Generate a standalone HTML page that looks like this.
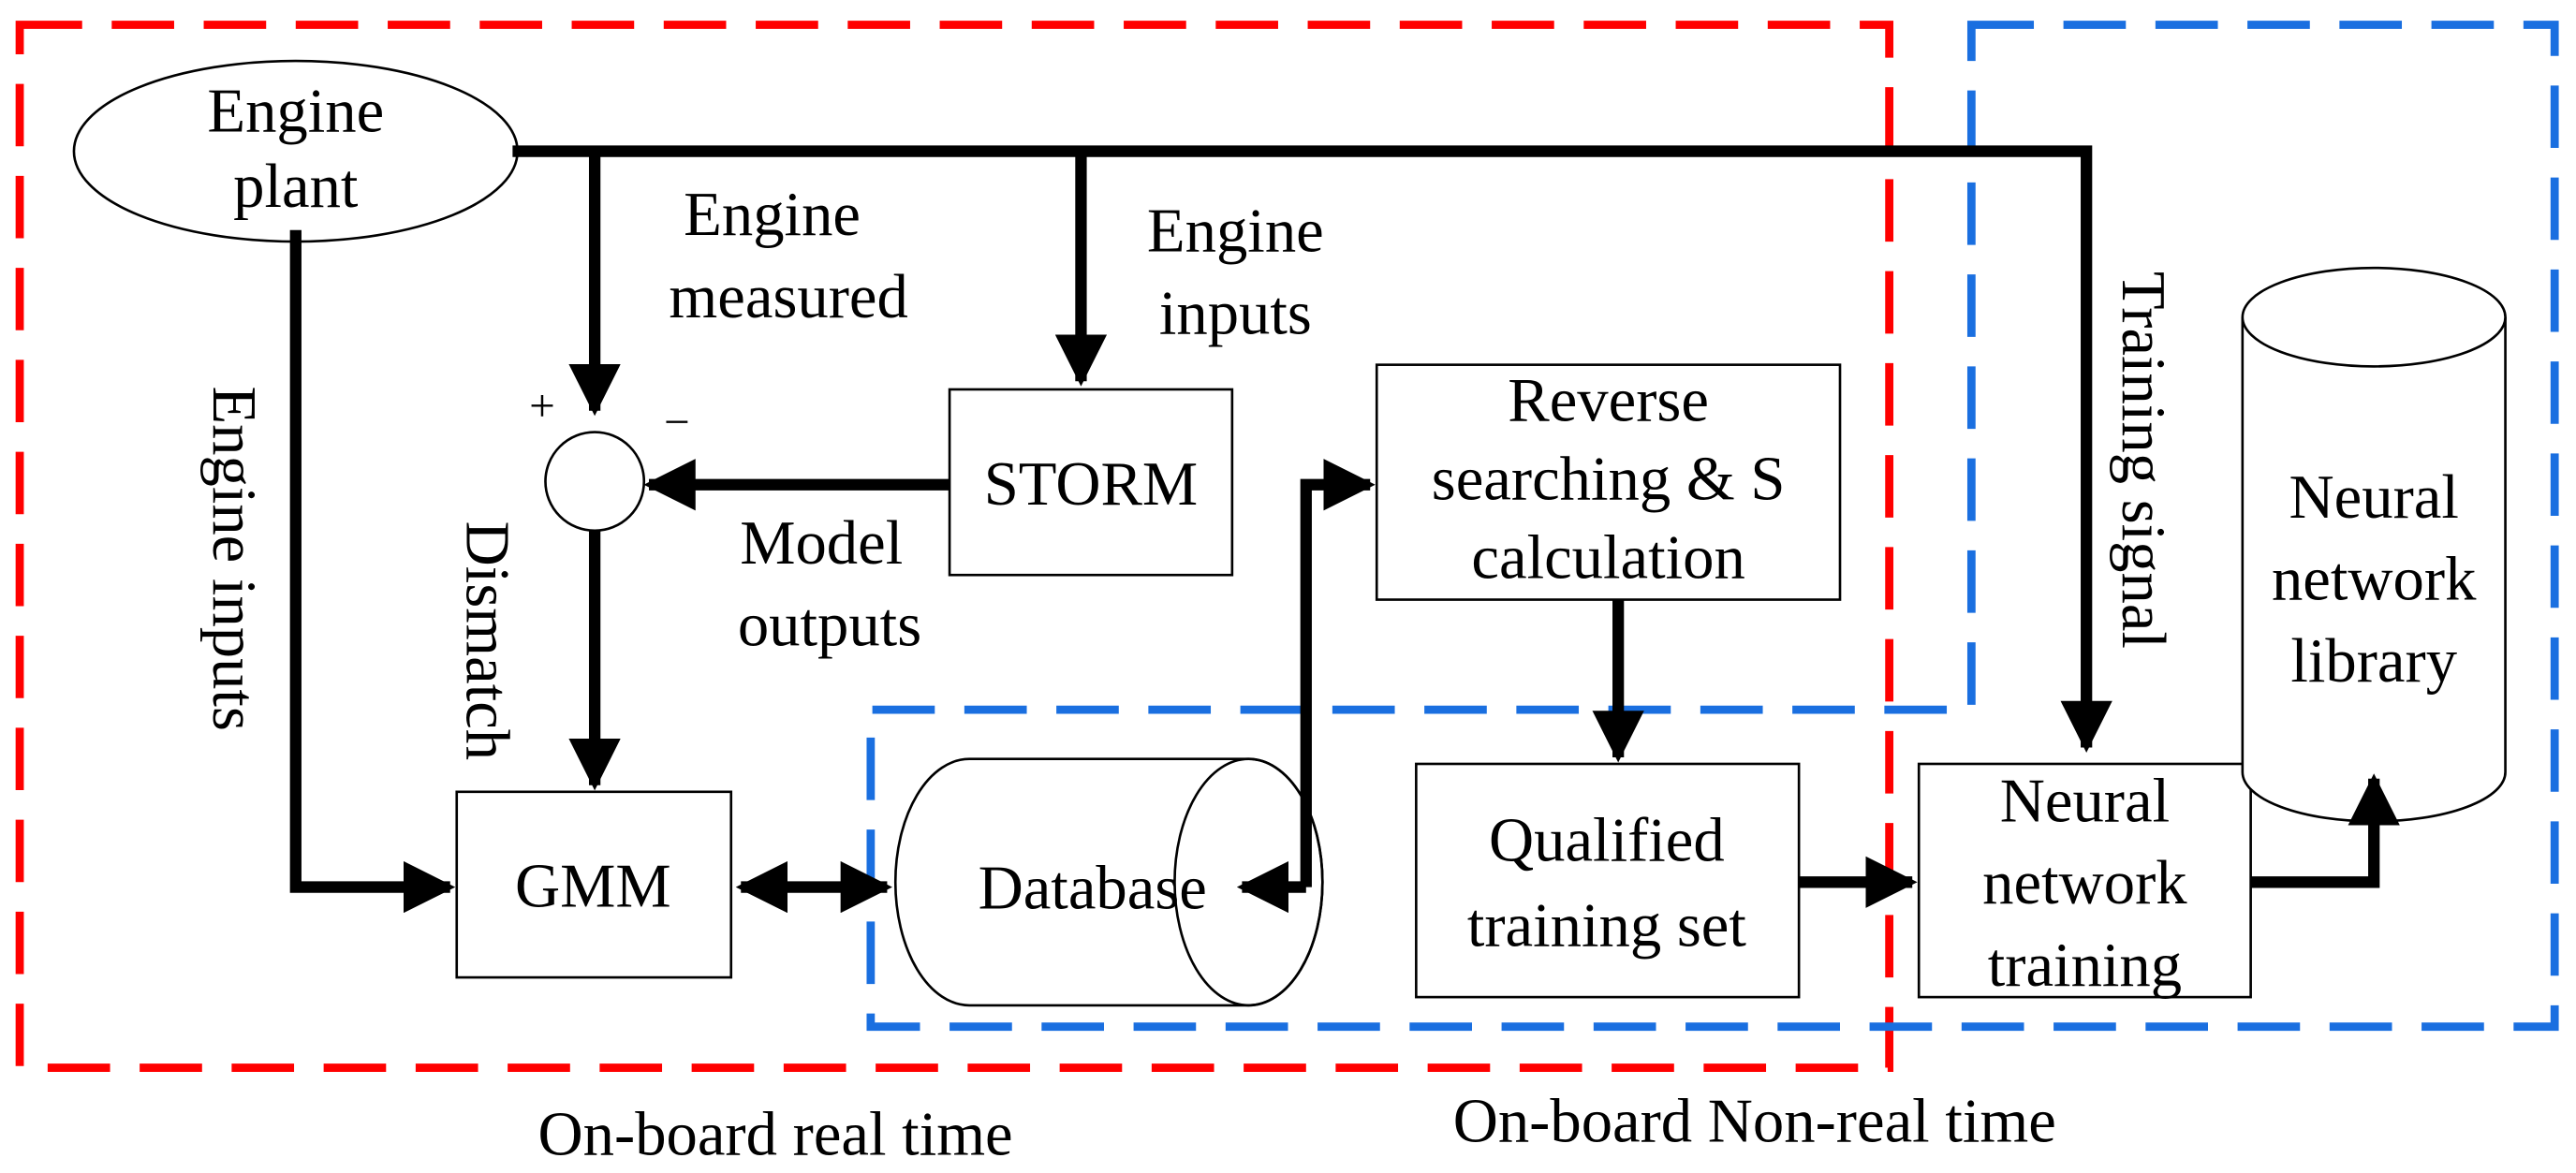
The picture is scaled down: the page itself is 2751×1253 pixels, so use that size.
<!DOCTYPE html>
<html><head><meta charset="utf-8"><style>html,body{margin:0;padding:0;background:#fff}svg{display:block}</style></head>
<body>
<svg width="2751" height="1253" viewBox="0 0 1568 714" xmlns="http://www.w3.org/2000/svg" font-family="Liberation Serif, serif" font-size="38">
<defs>
<marker id="a" viewBox="0 0 10 10" refX="9" refY="5" markerWidth="4.5" markerHeight="4.5" orient="auto-start-reverse" markerUnits="strokeWidth"><path d="M0,0 L10,5 L0,10 z" fill="#000"/></marker>
</defs>
<rect x="12" y="15" width="1138" height="635" fill="none" stroke="#f00" stroke-width="5" stroke-dasharray="38,18"/>
<path d="M1200,15 H1555 V625 H530 V432 H1200 Z" fill="none" stroke="#1a6fe0" stroke-width="5" stroke-dasharray="38,18"/>
<ellipse cx="180" cy="92" rx="135" ry="55" fill="#fff" stroke="#000" stroke-width="1.5"/>
<text x="180" y="80" text-anchor="middle">Engine</text>
<text x="180" y="126" text-anchor="middle">plant</text>
<circle cx="362" cy="293" r="30" fill="#fff" stroke="#000" stroke-width="1.5"/>
<text x="330" y="256" font-size="28" text-anchor="middle">+</text>
<text x="412" y="266" font-size="28" text-anchor="middle">−</text>
<rect x="578" y="237" width="172" height="113" fill="#fff" stroke="#000" stroke-width="1.5"/>
<text x="664" y="307" text-anchor="middle">STORM</text>
<rect x="278" y="482" width="167" height="113" fill="#fff" stroke="#000" stroke-width="1.5"/>
<text x="361" y="552" text-anchor="middle">GMM</text>
<path d="M590,462 H760 A45,75 0 0 1 760,612 H590 A45,75 0 0 1 590,462 Z" fill="#fff" stroke="#000" stroke-width="1.5"/>
<ellipse cx="760" cy="537" rx="45" ry="75" fill="none" stroke="#000" stroke-width="1.5"/>
<text x="665" y="553" text-anchor="middle">Database</text>
<rect x="838" y="222" width="282" height="143" fill="#fff" stroke="#000" stroke-width="1.5"/>
<text x="979" y="256" text-anchor="middle">Reverse</text>
<text x="979" y="304" text-anchor="middle">searching &amp; S</text>
<text x="979" y="352" text-anchor="middle">calculation</text>
<rect x="862" y="465" width="233" height="142" fill="#fff" stroke="#000" stroke-width="1.5"/>
<text x="978" y="524" text-anchor="middle">Qualified</text>
<text x="978" y="576" text-anchor="middle">training set</text>
<rect x="1168" y="465" width="202" height="142" fill="#fff" stroke="#000" stroke-width="1.5"/>
<text x="1269" y="500" text-anchor="middle">Neural</text>
<text x="1269" y="550" text-anchor="middle">network</text>
<text x="1269" y="600" text-anchor="middle">training</text>
<path d="M1365,193 V470 A80,30 0 0 0 1525,470 V193" fill="#fff" stroke="#000" stroke-width="1.5"/>
<ellipse cx="1445" cy="193" rx="80" ry="30" fill="#fff" stroke="#000" stroke-width="1.5"/>
<text x="1445" y="315" text-anchor="middle">Neural</text>
<text x="1445" y="365" text-anchor="middle">network</text>
<text x="1445" y="415" text-anchor="middle">library</text>
<g stroke="#000" stroke-width="7" fill="none">
<path d="M312,92 H1270 V455" marker-end="url(#a)"/>
<path d="M362,92 V250" marker-end="url(#a)"/>
<path d="M658,92 V232" marker-end="url(#a)"/>
<path d="M578,295 H395" marker-end="url(#a)"/>
<path d="M362,323 V478" marker-end="url(#a)"/>
<path d="M180,140 V540 H274" marker-end="url(#a)"/>
<path d="M451,540 H540" marker-start="url(#a)" marker-end="url(#a)"/>
<path d="M795,540 V295 H834" marker-end="url(#a)"/>
<path d="M795,540 H756" marker-end="url(#a)"/>
<path d="M985,365 V461" marker-end="url(#a)"/>
<path d="M1095,537 H1164" marker-end="url(#a)"/>
<path d="M1370,537 H1445 V474" marker-end="url(#a)"/>
</g>
<text x="470" y="143" text-anchor="middle">Engine</text>
<text x="480" y="193" text-anchor="middle">measured</text>
<text x="752" y="153" text-anchor="middle">Engine</text>
<text x="752" y="203" text-anchor="middle">inputs</text>
<text x="500" y="343" text-anchor="middle">Model</text>
<text x="505" y="393" text-anchor="middle">outputs</text>
<text transform="translate(130,340) rotate(90)" text-anchor="middle">Engine inputs</text>
<text transform="translate(284,390) rotate(90)" text-anchor="middle">Dismatch</text>
<text transform="translate(1292,280) rotate(90)" text-anchor="middle">Training signal</text>
<text x="472" y="703" text-anchor="middle">On-board real time</text>
<text x="1068" y="695" text-anchor="middle">On-board Non-real time</text>
</svg>
</body></html>
